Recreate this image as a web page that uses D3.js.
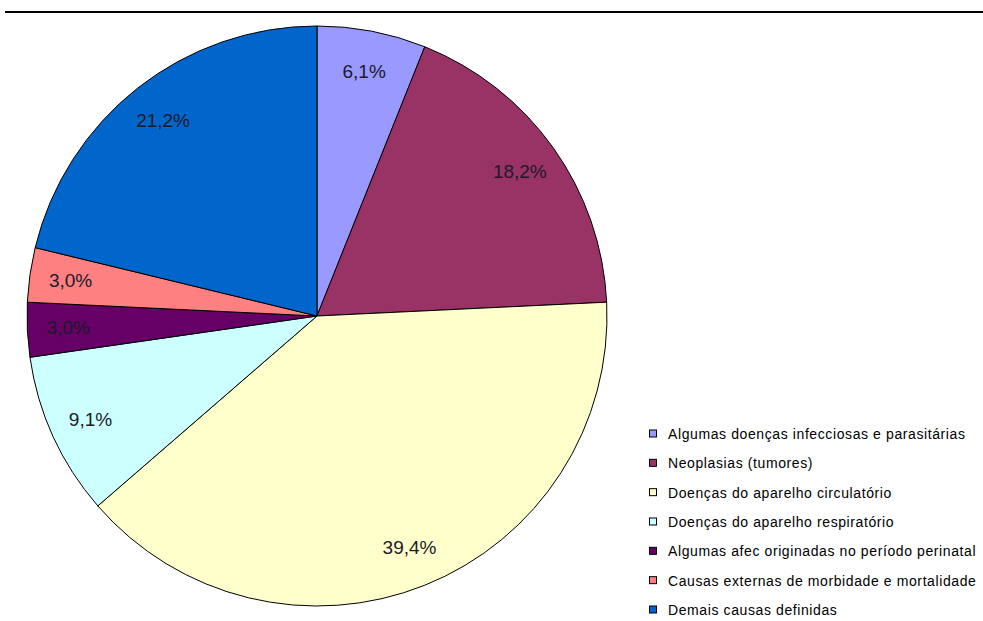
<!DOCTYPE html>
<html>
<head>
<meta charset="utf-8">
<script src="https://cdn.jsdelivr.net/npm/d3@7"></script>
<style>
  body { margin: 0; background: #fff; }
  svg { display: block; }
</style>
</head>
<body>
<div id="chart"></div>
<script>
// data (percentages correspond to counts out of 33)
const categories = [
  "Algumas doenças infecciosas e parasitárias",
  "Neoplasias (tumores)",
  "Doenças do aparelho circulatório",
  "Doenças do aparelho respiratório",
  "Algumas afec originadas no período perinatal",
  "Causas externas de morbidade e mortalidade",
  "Demais causas definidas"
];
const counts = [2, 6, 13, 3, 1, 1, 7];
const pctLabels = ["6,1%", "18,2%", "39,4%", "9,1%", "3,0%", "3,0%", "21,2%"];
const colors = ["#9999FF", "#993366", "#FFFFCC", "#CCFFFF", "#660066", "#FF8080", "#0066CC"];

const width = 983, height = 621;
const cx = 317, cy = 316, radius = 290;

const svg = d3.select("#chart")
  .append("svg")
    .attr("width", width)
    .attr("height", height);

// rule across the top
svg.append("line")
  .attr("x1", 5).attr("x2", width)
  .attr("y1", 12).attr("y2", 12)
  .style("stroke", "#000")
  .style("stroke-width", 2);

const pie = d3.pie().sort(null).value(d => d);
const arcs = pie(counts);

const arc = d3.arc().innerRadius(0).outerRadius(radius);
const labelArc = d3.arc().innerRadius(249).outerRadius(249);

const g = svg.append("g")
  .attr("transform", `translate(${cx}, ${cy})`);

g.selectAll("path")
  .data(arcs)
  .join("path")
    .attr("d", arc)
    .style("fill", (d, i) => colors[i])
    .style("stroke", "#000")
    .style("stroke-width", 1)
    .style("stroke-linejoin", "round");

g.selectAll("text")
  .data(arcs)
  .join("text")
    .attr("transform", d => `translate(${labelArc.centroid(d)})`)
    .attr("text-anchor", "middle")
    .attr("dominant-baseline", "central")
    .style("font-family", "'Liberation Sans', Arial, sans-serif")
    .style("font-size", "19px")
    .style("fill", "#1a1a2a")
    .text((d, i) => pctLabels[i]);

// legend
const legendY = d3.scalePoint()
  .domain(categories)
  .range([433, 609]);

const legend = svg.append("g").attr("class", "legend")
  .selectAll("g")
  .data(categories)
  .join("g")
    .attr("transform", d => `translate(649, ${legendY(d)})`);

legend.append("rect")
  .attr("x", 0.5)
  .attr("y", -3)
  .attr("width", 7)
  .attr("height", 7)
  .style("fill", (d, i) => colors[i])
  .style("stroke", "#000")
  .style("stroke-width", 1);

legend.append("text")
  .attr("x", 19)
  .attr("y", 1)
  .attr("dominant-baseline", "central")
  .style("font-family", "'Liberation Sans', Arial, sans-serif")
  .style("font-size", "14px")
  .style("letter-spacing", "0.6px")
  .style("fill", "#000")
  .text(d => d);
</script>
</body>
</html>
